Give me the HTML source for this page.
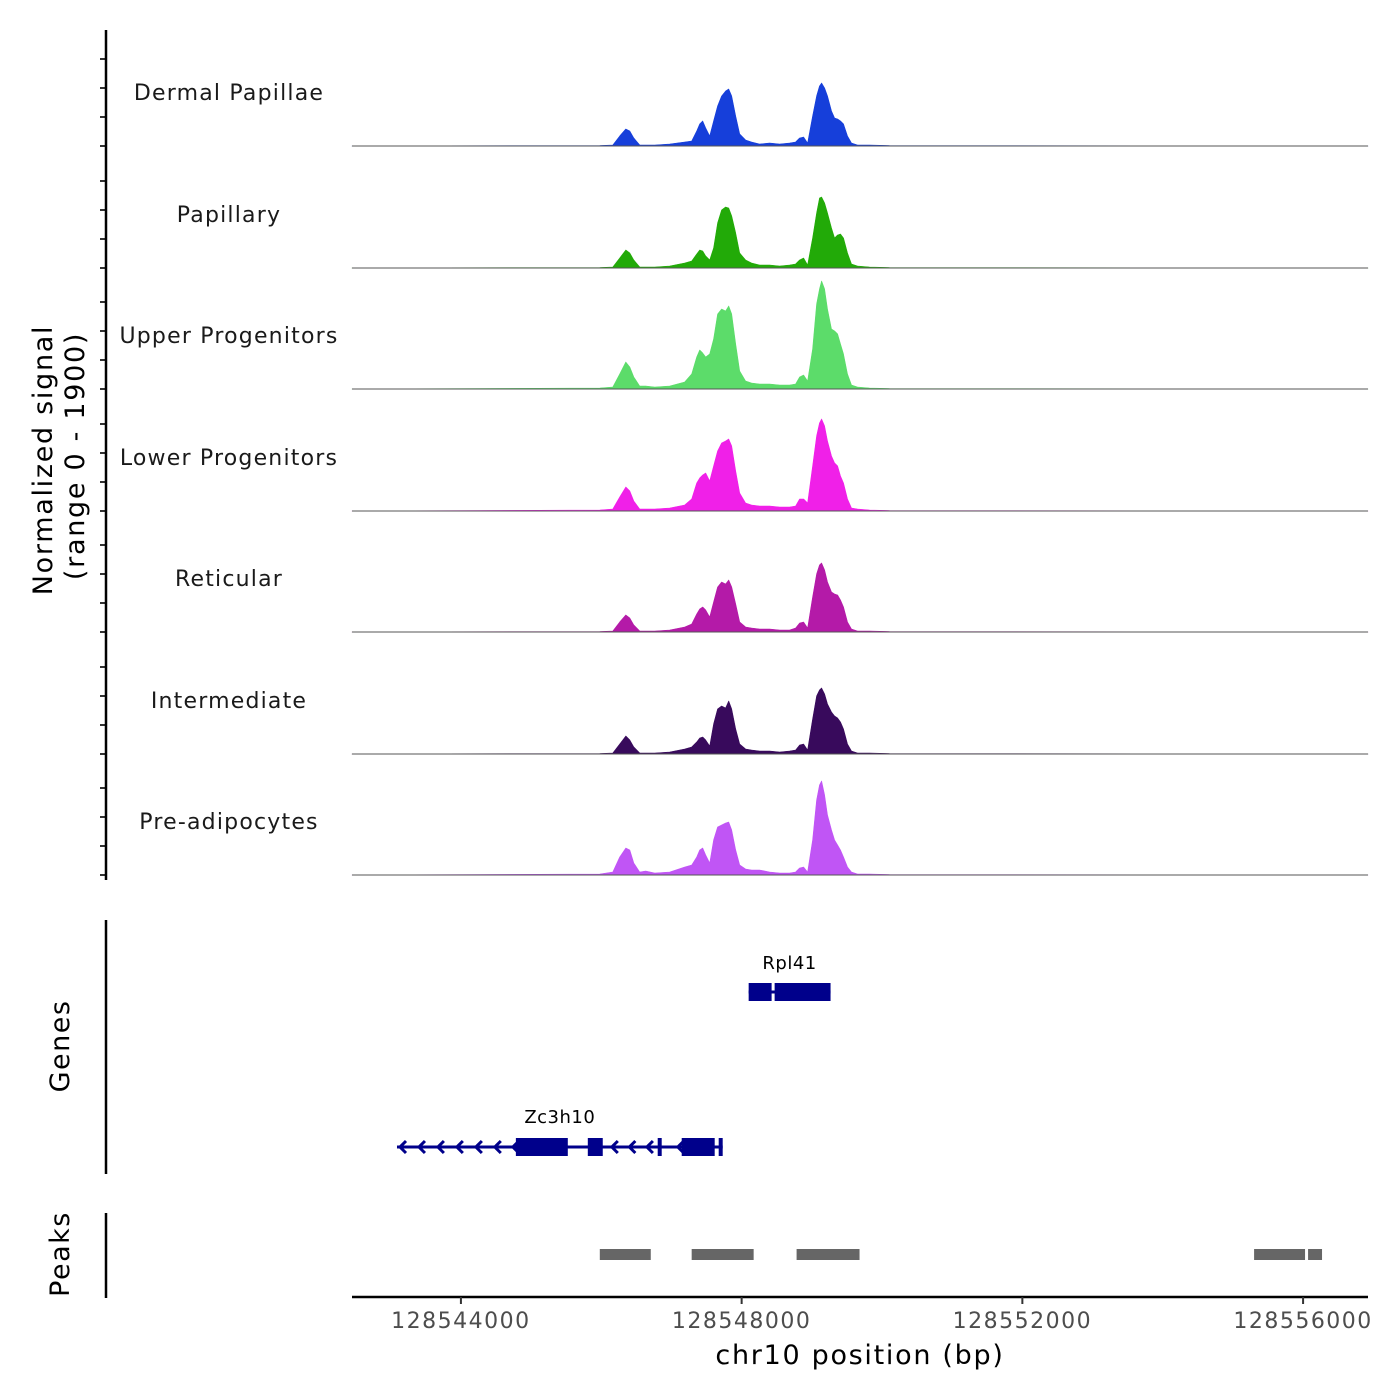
<!DOCTYPE html>
<html><head><meta charset="utf-8"><style>
html,body{margin:0;padding:0;background:#fff}
svg{display:block;font-family:"DejaVu Sans","Liberation Sans",sans-serif}
</style></head><body>
<svg id="chart" width="1400" height="1400" viewBox="0 0 1400 1400"></svg>
<script>
// ---------- data ----------
const trackNames = ["Dermal Papillae","Papillary","Upper Progenitors","Lower Progenitors","Reticular","Intermediate","Pre-adipocytes"];
const trackColors = ["#163fda","#22aa08","#5cdc6a","#f020e8","#b41aa8","#380a5c","#c055f5"];
const positions = [128542448,128545979,128546164,128546263,128546349,128546406,128546463,128546548,128546633,128546762,128546975,128547189,128547288,128547359,128547402,128547445,128547488,128547545,128547601,128547658,128547715,128547772,128547815,128547858,128547915,128547972,128548057,128548142,128548256,128548399,128548541,128548683,128548769,128548826,128548883,128548940,128549011,128549068,128549110,128549139,128549182,128549224,128549281,128549324,128549367,128549409,128549452,128549509,128549566,128549651,128549822,128550107,128556925];
const sigDermal = [0,0.5,1,10,17,15,8,1,1,1,2,4,5,15,22,25,18,10,25,40,50,55,57,50,30,12,6,4,2,3,2,3,4,8,9,3,30,50,60,63,58,50,35,28,27,25,22,10,3,1,1,0.5,0];
const sigPapillary = [0,0.5,1,10,18,15,8,1,1,1,2,5,7,14,18,17,12,8,20,45,58,61,60,52,35,15,8,5,3,3,2,3,4,8,10,3,30,55,70,71,65,55,40,30,33,34,30,15,4,2,1,0.5,0];
const sigUpper = [0,1,2,15,27,22,12,3,3,2,3,7,15,32,39,36,32,35,50,75,80,78,83,75,45,18,8,6,5,5,4,4,5,12,14,8,40,85,100,108,100,80,60,58,55,45,35,15,4,2,1,0.5,0];
const sigLower = [0,1,2,14,24,20,10,2,2,2,3,6,12,28,33,36,38,30,45,60,68,70,72,65,40,18,8,6,5,5,4,4,5,12,12,8,45,75,88,92,85,70,55,48,45,35,28,12,3,2,1,0.5,0];
const sigReticular = [0,0.5,1,10,17,14,7,1,1,1,2,5,8,18,23,25,22,15,30,45,50,48,52,45,28,10,5,4,3,3,2,2,4,9,10,4,35,58,67,69,62,50,40,38,37,32,25,10,3,1,1,0.5,0];
const sigIntermediate = [0,0.5,1,10,18,14,7,1,1,1,2,5,7,12,16,17,14,8,30,45,48,46,53,45,25,10,5,4,3,3,2,3,4,9,10,4,35,58,64,66,60,50,42,38,36,32,25,10,3,1,1,0.5,0];
const sigPreadipo = [0,1,3,18,27,25,12,3,4,2,3,8,10,18,25,27,20,12,35,48,50,52,53,45,25,10,6,5,5,3,2,2,3,7,8,3,35,75,90,94,80,60,45,35,30,25,18,8,3,1,1,0.5,0];
const allSignals = [sigDermal,sigPapillary,sigUpper,sigLower,sigReticular,sigIntermediate,sigPreadipo];
const xTicks = [128544000,128548000,128552000,128556000];
const yTicks = [0,29,58,87];
const peakStarts = [128545979,128547288,128548783,128555302,128556071];
const peakEnds = [128546705,128548171,128549680,128556028,128556270];
const geneNames = ["Rpl41","Zc3h10"];
const geneStarts = [128548100,128543089];
const geneEnds = [128549267,128547730];
const exonStarts = [[128548100,128548470],[128544783,128545808,128546804,128547146,128547673]];
const exonEnds = [[128548427,128549267],[128545523,128546021,128546861,128547616,128547730]];
const intronArrows = [128543132,128543402,128543672,128543942,128544213,128544483,128544740,128546150,128546400,128546650,128547090];

// ---------- scales ----------
const X0=352, X1=1368, D0=128542448, D1=128556925;
const xs = v => X0 + (v-D0)/(D1-D0)*(X1-X0);
const baselines=[146,268,389,511,632,754,875];
const ys = (v,b) => b - v;
const NS="http://www.w3.org/2000/svg";
const svg=document.getElementById('chart');
function mk(tag,attrs,parent){const e=document.createElementNS(NS,tag);for(const k in attrs)e.setAttribute(k,attrs[k]);(parent||svg).appendChild(e);return e;}

allSignals.forEach((sig,i)=>{
  const b=baselines[i];
  const g=mk('g',{});
  
  
  let d='M'+xs(positions[0])+','+b;
  positions.forEach((p,j)=>{d+=' L'+xs(p).toFixed(1)+','+ys(sig[j],b).toFixed(1);});
  d+=' L'+xs(positions[positions.length-1])+','+b+' Z';
  const a=mk('path',{d:d,fill:trackColors[i],stroke:trackColors[i],'stroke-width':0.6,'stroke-linejoin':'round'},g);
  
  
  const bl=mk('line',{x1:X0,x2:X1,y1:b,y2:b,stroke:'#555','stroke-width':1},g);
  
  
  const t=mk('text',{x:229,y:b-46,'text-anchor':'middle','font-size':22,fill:'#1a1a1a','letter-spacing':'1.2'},g);
  t.textContent=trackNames[i];
  
  
  yTicks.forEach(tv=>{
    const tk=mk('line',{x1:100,x2:106,y1:ys(tv,b),y2:ys(tv,b),stroke:'#333','stroke-width':2},g);
    
    
  });
});
</script>
<svg style="position:absolute;left:0;top:0" width="1400" height="1400">
  <line x1="106" y1="30" x2="106" y2="880" stroke="#000" stroke-width="2.5"/>
  <text transform="translate(52,460) rotate(-90)" text-anchor="middle" font-size="27" letter-spacing="1.7" font-family="DejaVu Sans, sans-serif">Normalized signal</text>
  <text transform="translate(84,456) rotate(-90)" text-anchor="middle" font-size="27" letter-spacing="1.7" font-family="DejaVu Sans, sans-serif">(range 0 - 1900)</text>
  <line x1="106" y1="920" x2="106" y2="1174" stroke="#000" stroke-width="2.5"/>
  <text transform="translate(69,1046) rotate(-90)" text-anchor="middle" font-size="27" letter-spacing="1.5" font-family="DejaVu Sans, sans-serif">Genes</text>
  <line x1="106" y1="1213" x2="106" y2="1298" stroke="#000" stroke-width="2.5"/>
  <text transform="translate(69,1254) rotate(-90)" text-anchor="middle" font-size="27" letter-spacing="1.5" font-family="DejaVu Sans, sans-serif">Peaks</text>
  <line x1="352" y1="1297" x2="1368" y2="1297" stroke="#000" stroke-width="2.5"/>
  <text x="860" y="1364" text-anchor="middle" font-size="27" letter-spacing="1.7" font-family="DejaVu Sans, sans-serif">chr10 position (bp)</text>
</svg>
<script>
(function(){
const f=document.querySelectorAll('svg')[1];
function mk2(tag,attrs,parent){const e=document.createElementNS(NS,tag);for(const k in attrs)e.setAttribute(k,attrs[k]);(parent||f).appendChild(e);return e;}
const geneY=[992,1147];
const labelY=[969,1123];
geneNames.forEach((gn,i)=>{
  const g=mk2('g',{fill:'#00008b',stroke:'#00008b'});
  
  
  const l=mk2('line',{x1:xs(geneStarts[i]),x2:xs(geneEnds[i]),y1:geneY[i],y2:geneY[i],'stroke-width':3},g);
  
  
  exonStarts[i].forEach((s,j)=>{
    const w=Math.max(3,xs(exonEnds[i][j])-xs(s));
    const r=mk2('rect',{x:xs(s),y:geneY[i]-9,width:w,height:18,'stroke-width':0},g);
    
    
  });
  const t=mk2('text',{x:(xs(geneStarts[i])+xs(geneEnds[i]))/2,y:labelY[i],'text-anchor':'middle','font-size':18,'letter-spacing':'0.5',fill:'#000',stroke:'none','font-family':'DejaVu Sans, sans-serif'},g);
  t.textContent=gn;
  
  
});
intronArrows.forEach(a=>{
  const x=xs(a);
  const p=mk2('path',{d:`M${x+6},${1141} L${x},${1147} L${x+6},${1153}`,fill:'none',stroke:'#00008b','stroke-width':3});
  
  
});
peakStarts.forEach((s,i)=>{
  const r=mk2('rect',{x:xs(s),y:1249,width:xs(peakEnds[i])-xs(s),height:11,fill:'#666'});
  
  
});
xTicks.forEach(v=>{
  const x=xs(v);
  const tk=mk2('line',{x1:x,x2:x,y1:1297,y2:1304,stroke:'#333','stroke-width':2});
  
  
  const t=mk2('text',{x:x,y:1328,'text-anchor':'middle','font-size':22,'letter-spacing':'1.5',fill:'#4d4d4d','font-family':'DejaVu Sans, sans-serif'});
  t.textContent=String(v);
  
  
});
})();
</script>
</body></html>
